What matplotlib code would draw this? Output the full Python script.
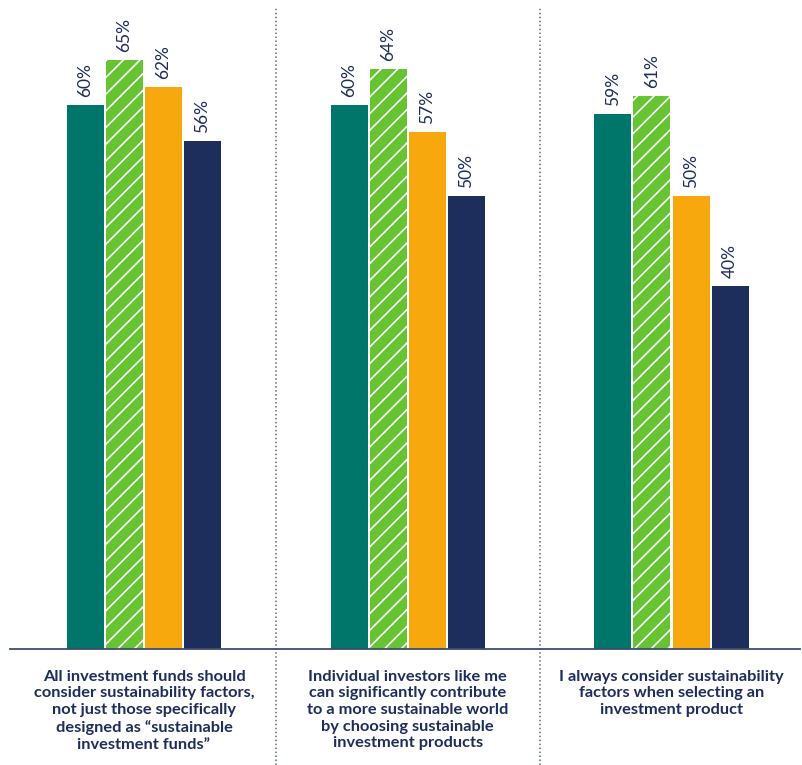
import numpy as np
import matplotlib
matplotlib.use('Agg')
import matplotlib.pyplot as plt

# survey statements and the four series (percent agreeing)
categories = [
    'All investment funds should\nconsider sustainability factors,\nnot just those specifically\ndesigned as \u201csustainable\ninvestment funds\u201d',
    'Individual investors like me\ncan significantly contribute\nto a more sustainable world\nby choosing sustainable\ninvestment products',
    'I always consider sustainability\nfactors when selecting an\ninvestment product',
]
series_a = [60, 60, 59]   # teal
series_b = [65, 64, 61]   # green hatched
series_c = [62, 57, 50]   # orange
series_d = [56, 50, 40]   # navy

NAVY = '#1d2d5c'
colors = ['#00766a', '#66c332', '#f7a80c', NAVY]
hatches = [None, '//', None, None]

plt.rcParams['font.family'] = ['Lato', 'DejaVu Sans']
plt.rcParams['hatch.linewidth'] = 1.2
plt.rcParams['hatch.color'] = 'white'

fig = plt.figure(figsize=(8.02, 7.65), dpi=100)
ax = fig.add_axes([0, 116 / 765, 1, 649 / 765])

x = np.arange(len(categories))
step = 39 / 263.75
width = 37 / 263.75
for i, vals in enumerate([series_a, series_b, series_c, series_d]):
    pos = x + (i - 1.5) * step
    ax.bar(pos, vals, width, color=colors[i], hatch=hatches[i],
           edgecolor='white' if hatches[i] else colors[i], linewidth=0)
    for px, v in zip(pos, vals):
        ax.text(px, v + 0.9, f'{v}%', rotation=90, ha='center', va='bottom',
                fontsize=12.5, color=NAVY)

ax.set_xlim(-144 / 263.75, 658 / 263.75)
ax.set_ylim(0, 71.6)
ax.axis('off')

# baseline
ax.plot([-134 / 263.75, 656 / 263.75], [0, 0], color='#3d4d72', lw=1.3,
        clip_on=False, zorder=3)
# dotted separators between groups
for s in [0.5, 1.5]:
    ax.plot([s, s], [-12.8, 70.8], color='#5a6788', lw=1.1, ls=(0, (1, 1.6)),
            clip_on=False)

for xi, lab in zip(x, categories):
    ax.text(xi, -2.3, lab, ha='center', va='top', fontsize=11.8,
            fontweight='bold', color=NAVY, linespacing=1.24, clip_on=False)

fig.savefig('out.png', dpi=100)
